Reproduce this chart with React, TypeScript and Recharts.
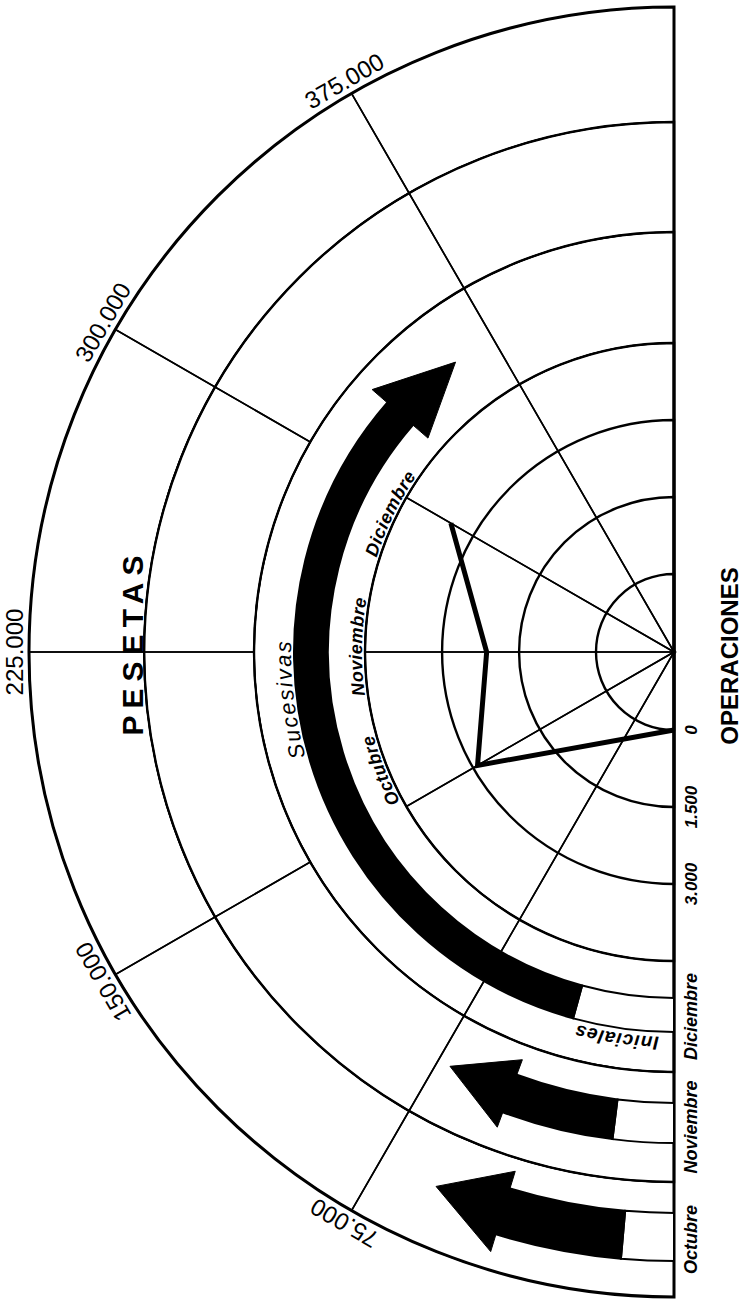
import React from 'react';
import { PieChart, Pie, Cell, RadarChart, Radar, PolarAngleAxis, PolarRadiusAxis } from 'recharts';

const W = 745;
const H = 1303;
const CX = 674;
const CY = 652;
const M = { top: 0, right: 0, bottom: 0, left: 0 };
const FONT = '"Liberation Sans", Arial, sans-serif';

// eje angular: pesetas (0 abajo, 450.000 arriba)
const pesetasMax = 450000;
const pesetasTicks = [75000, 150000, 225000, 300000, 375000];
const pesetasLabels = ['75.000', '150.000', '225.000', '300.000', '375.000'];

// eje radial: operaciones
const opsMax = 4500;
const opsTicks = [0, 1500, 3000];
const opsLabels = ['0', '1.500', '3.000'];

// linea de operaciones
const lineaPesetas = [0, 150000, 225000, 300000];
const lineaOps = [0, 2900, 2130, 3500];

// flechas (iniciales octubre, noviembre y sucesivas)
const flechas = ['Octubre', 'Noviembre', 'Sucesivas'];
const flechaBlanco = [12500, 18000, 38500];
const flechaBase = [42500, 51000, 327500];
const flechaPunta = [60000, 71000, 357500];

// meses
const meses = ['Octubre', 'Noviembre', 'Diciembre'];
const mesesPesetas = [150000, 225000, 300000];

// geometry (px)
const R_OPS0 = 78;
const R_OPS1 = 309;
const R_SUC = 420;
const R_MID = 530;
const R_OUT = 645;
const flechaRadios = [[561, 609], [451, 491], [346, 380]];
const flechaAla = [18, 16, 20];
const mesBandas = [[R_MID, R_OUT], [R_SUC, R_MID], [R_OPS1, R_SUC]];

const RAD = Math.PI / 180;
const pt = (cx: number, cy: number, r: number, a: number) => [cx + r * Math.cos(-a * RAD), cy + r * Math.sin(-a * RAD)];
const rOps = (v: number) => R_OPS0 + (v / opsMax) * (R_OPS1 - R_OPS0);
const theta = (p: number) => (p / pesetasMax) * 180;

const cortes = (b: number[]) => b.slice(1).map((x, i) => ({ v: x - b[i] }));
const todosRadios = cortes([0, ...pesetasTicks, pesetasMax]);
const radiosExtremos = cortes([0, pesetasTicks[0], pesetasTicks[pesetasTicks.length - 1], pesetasMax]);
const semicirculo = [{ v: pesetasMax }];
const anillos = [...[...opsTicks, opsMax].map(rOps), R_SUC, R_MID];

const lineaData = lineaPesetas.map((p, i) => ({ pesetas: p, ops: lineaOps[i] }));
const flechaData = flechas.map((_, i) => [
  { v: flechaBlanco[i], k: 'w' },
  { v: flechaBase[i] - flechaBlanco[i], k: 'b' },
  { v: flechaPunta[i] - flechaBase[i], k: 'h' },
  { v: pesetasMax - flechaPunta[i], k: 'r' },
]);

const cabeza = (ala: number) => (p: any) => {
  const k = (p.payload && p.payload.k) || p.k;
  if (k !== 'h') return <g />;
  const mid = (p.innerRadius + p.outerRadius) / 2;
  const a = pt(p.cx, p.cy, p.innerRadius - ala, p.startAngle);
  const b = pt(p.cx, p.cy, p.outerRadius + ala, p.startAngle);
  const c = pt(p.cx, p.cy, mid, p.endAngle);
  return <polygon points={`${a} ${b} ${c}`} fill="#000" stroke="#000" strokeWidth={1} />;
};

const PesetasTick = (props: any) => {
  const ang = props.payload.coordinate;
  const i = pesetasTicks.indexOf(props.payload.value);
  const [x, y] = pt(CX, CY, R_OUT + 6, ang);
  return (
    <text x={x} y={y} transform={`rotate(${90 - ang}, ${x}, ${y})`} textAnchor="middle"
      fontFamily={FONT} fontSize={24} fill="#000">{pesetasLabels[i]}</text>
  );
};

const OpsTick = (props: any) => {
  const i = opsTicks.indexOf(props.payload.value);
  const x = props.x + 23;
  return (
    <text x={x} y={props.y} transform={`rotate(-90, ${x}, ${props.y})`} textAnchor="middle"
      fontFamily={FONT} fontSize={17} fontWeight="bold" fontStyle="italic" fill="#000">{opsLabels[i]}</text>
  );
};

const Linea = (props: any) => (
  <polyline points={props.points.map((p: any) => `${p.x},${p.y}`).join(' ')}
    fill="none" stroke="#000" strokeWidth={5} strokeLinejoin="miter" />
);

const xy = (r: number, t: number) => [CX - r * Math.sin(t * RAD), CY + r * Math.cos(t * RAD)];
const arco = (r: number, t1: number, t2: number) => {
  const [x1, y1] = xy(r, t1);
  const [x2, y2] = xy(r, t2);
  return `M${x1},${y1} A${r},${r} 0 0 1 ${x2},${y2}`;
};

const curvas = [
  ...meses.map((m, i) => ({ text: m, r: 312, t: theta(mesesPesetas[i]) + [8, 1, -4][i], size: 18, sp: 0.5, bold: true })),
  { text: 'Sucesivas', r: 383, t: 83, size: 22, sp: 2, bold: false },
  { text: 'Iniciales', r: 385, t: 8.5, size: 19, sp: 1, bold: true },
];

export default function App() {
  const pieBase = { cx: CX, cy: CY, startAngle: 270, endAngle: 90, dataKey: 'v', isAnimationActive: false, fill: 'none', stroke: '#000' };
  return (
    <div style={{ position: 'absolute', left: 0, top: 0, width: W, height: H, background: '#fff', overflow: 'hidden' }}>
      <div style={{ position: 'absolute', left: 0, top: 0 }}>
        <PieChart width={W} height={H} margin={M}>
          <Pie {...pieBase} data={todosRadios} innerRadius={0} outerRadius={R_OPS1} strokeWidth={1.6} />
          <Pie {...pieBase} data={radiosExtremos} innerRadius={R_OPS1} outerRadius={R_SUC} strokeWidth={1.6} />
          <Pie {...pieBase} data={todosRadios} innerRadius={R_SUC} outerRadius={R_MID} strokeWidth={1.6} />
          <Pie {...pieBase} data={todosRadios} innerRadius={R_MID} outerRadius={R_OUT} strokeWidth={1.6} />
          {anillos.map((r, i) => (
            <Pie key={'a' + i} {...pieBase} data={semicirculo} innerRadius={0} outerRadius={r} strokeWidth={2.4} />
          ))}
          <Pie {...pieBase} data={semicirculo} innerRadius={0} outerRadius={R_OUT} strokeWidth={3} />
          {flechaData.map((d, i) => (
            <Pie key={'f' + i} {...pieBase} data={d} innerRadius={flechaRadios[i][0]} outerRadius={flechaRadios[i][1]}
              label={cabeza(flechaAla[i])} labelLine={false}>
              {d.map((e, j) => (
                <Cell key={j}
                  fill={e.k === 'w' ? '#fff' : e.k === 'b' ? '#000' : 'none'}
                  stroke={e.k === 'w' || e.k === 'b' ? '#000' : 'none'}
                  strokeWidth={2} />
              ))}
            </Pie>
          ))}
        </PieChart>
      </div>
      <div style={{ position: 'absolute', left: 0, top: 0 }}>
        <RadarChart width={W} height={H} margin={M} data={lineaData} cx={CX} cy={CY}
          innerRadius={R_OPS0} outerRadius={R_OPS1} startAngle={270} endAngle={90}>
          <PolarAngleAxis dataKey="pesetas" type="number" domain={[0, pesetasMax]} ticks={pesetasTicks}
            axisLine={false} tickLine={false} tick={<PesetasTick />} />
          <PolarRadiusAxis angle={270} type="number" domain={[0, opsMax]} ticks={opsTicks}
            axisLine={false} tick={<OpsTick />} />
          <Radar dataKey="ops" isAnimationActive={false} dot={false} shape={<Linea />} />
        </RadarChart>
      </div>
      <svg width={W} height={H} style={{ position: 'absolute', left: 0, top: 0 }}>
        <defs>
          {curvas.map((c, i) => (
            <path key={i} id={'arc' + i} d={arco(c.r, c.t - 40, c.t + 40)} fill="none" />
          ))}
        </defs>
        {curvas.map((c, i) => (
          <text key={i} fontFamily={FONT} fontSize={c.size} fontStyle="italic" fontWeight={c.bold ? 'bold' : 'normal'}
            letterSpacing={c.sp} fill="#000">
            <textPath href={'#arc' + i} startOffset="50%" textAnchor="middle">{c.text}</textPath>
          </text>
        ))}
        {meses.map((m, i) => {
          const y = CY + (mesBandas[i][0] + mesBandas[i][1]) / 2;
          return (
            <text key={m} x={697} y={y} transform={`rotate(-90, 697, ${y})`} textAnchor="middle"
              fontFamily={FONT} fontSize={18} fontWeight="bold" fontStyle="italic" fill="#000">{m}</text>
          );
        })}
        <text x={738} y={656} transform="rotate(-90, 738, 656)" textAnchor="middle"
          fontFamily={FONT} fontSize={24} fontWeight="bold" fill="#000">OPERACIONES</text>
        <text x={143} y={642} transform="rotate(-90, 143, 642)" textAnchor="middle"
          fontFamily={FONT} fontSize={30} fontWeight="900" letterSpacing={7} fill="#000">PESETAS</text>
      </svg>
    </div>
  );
}
